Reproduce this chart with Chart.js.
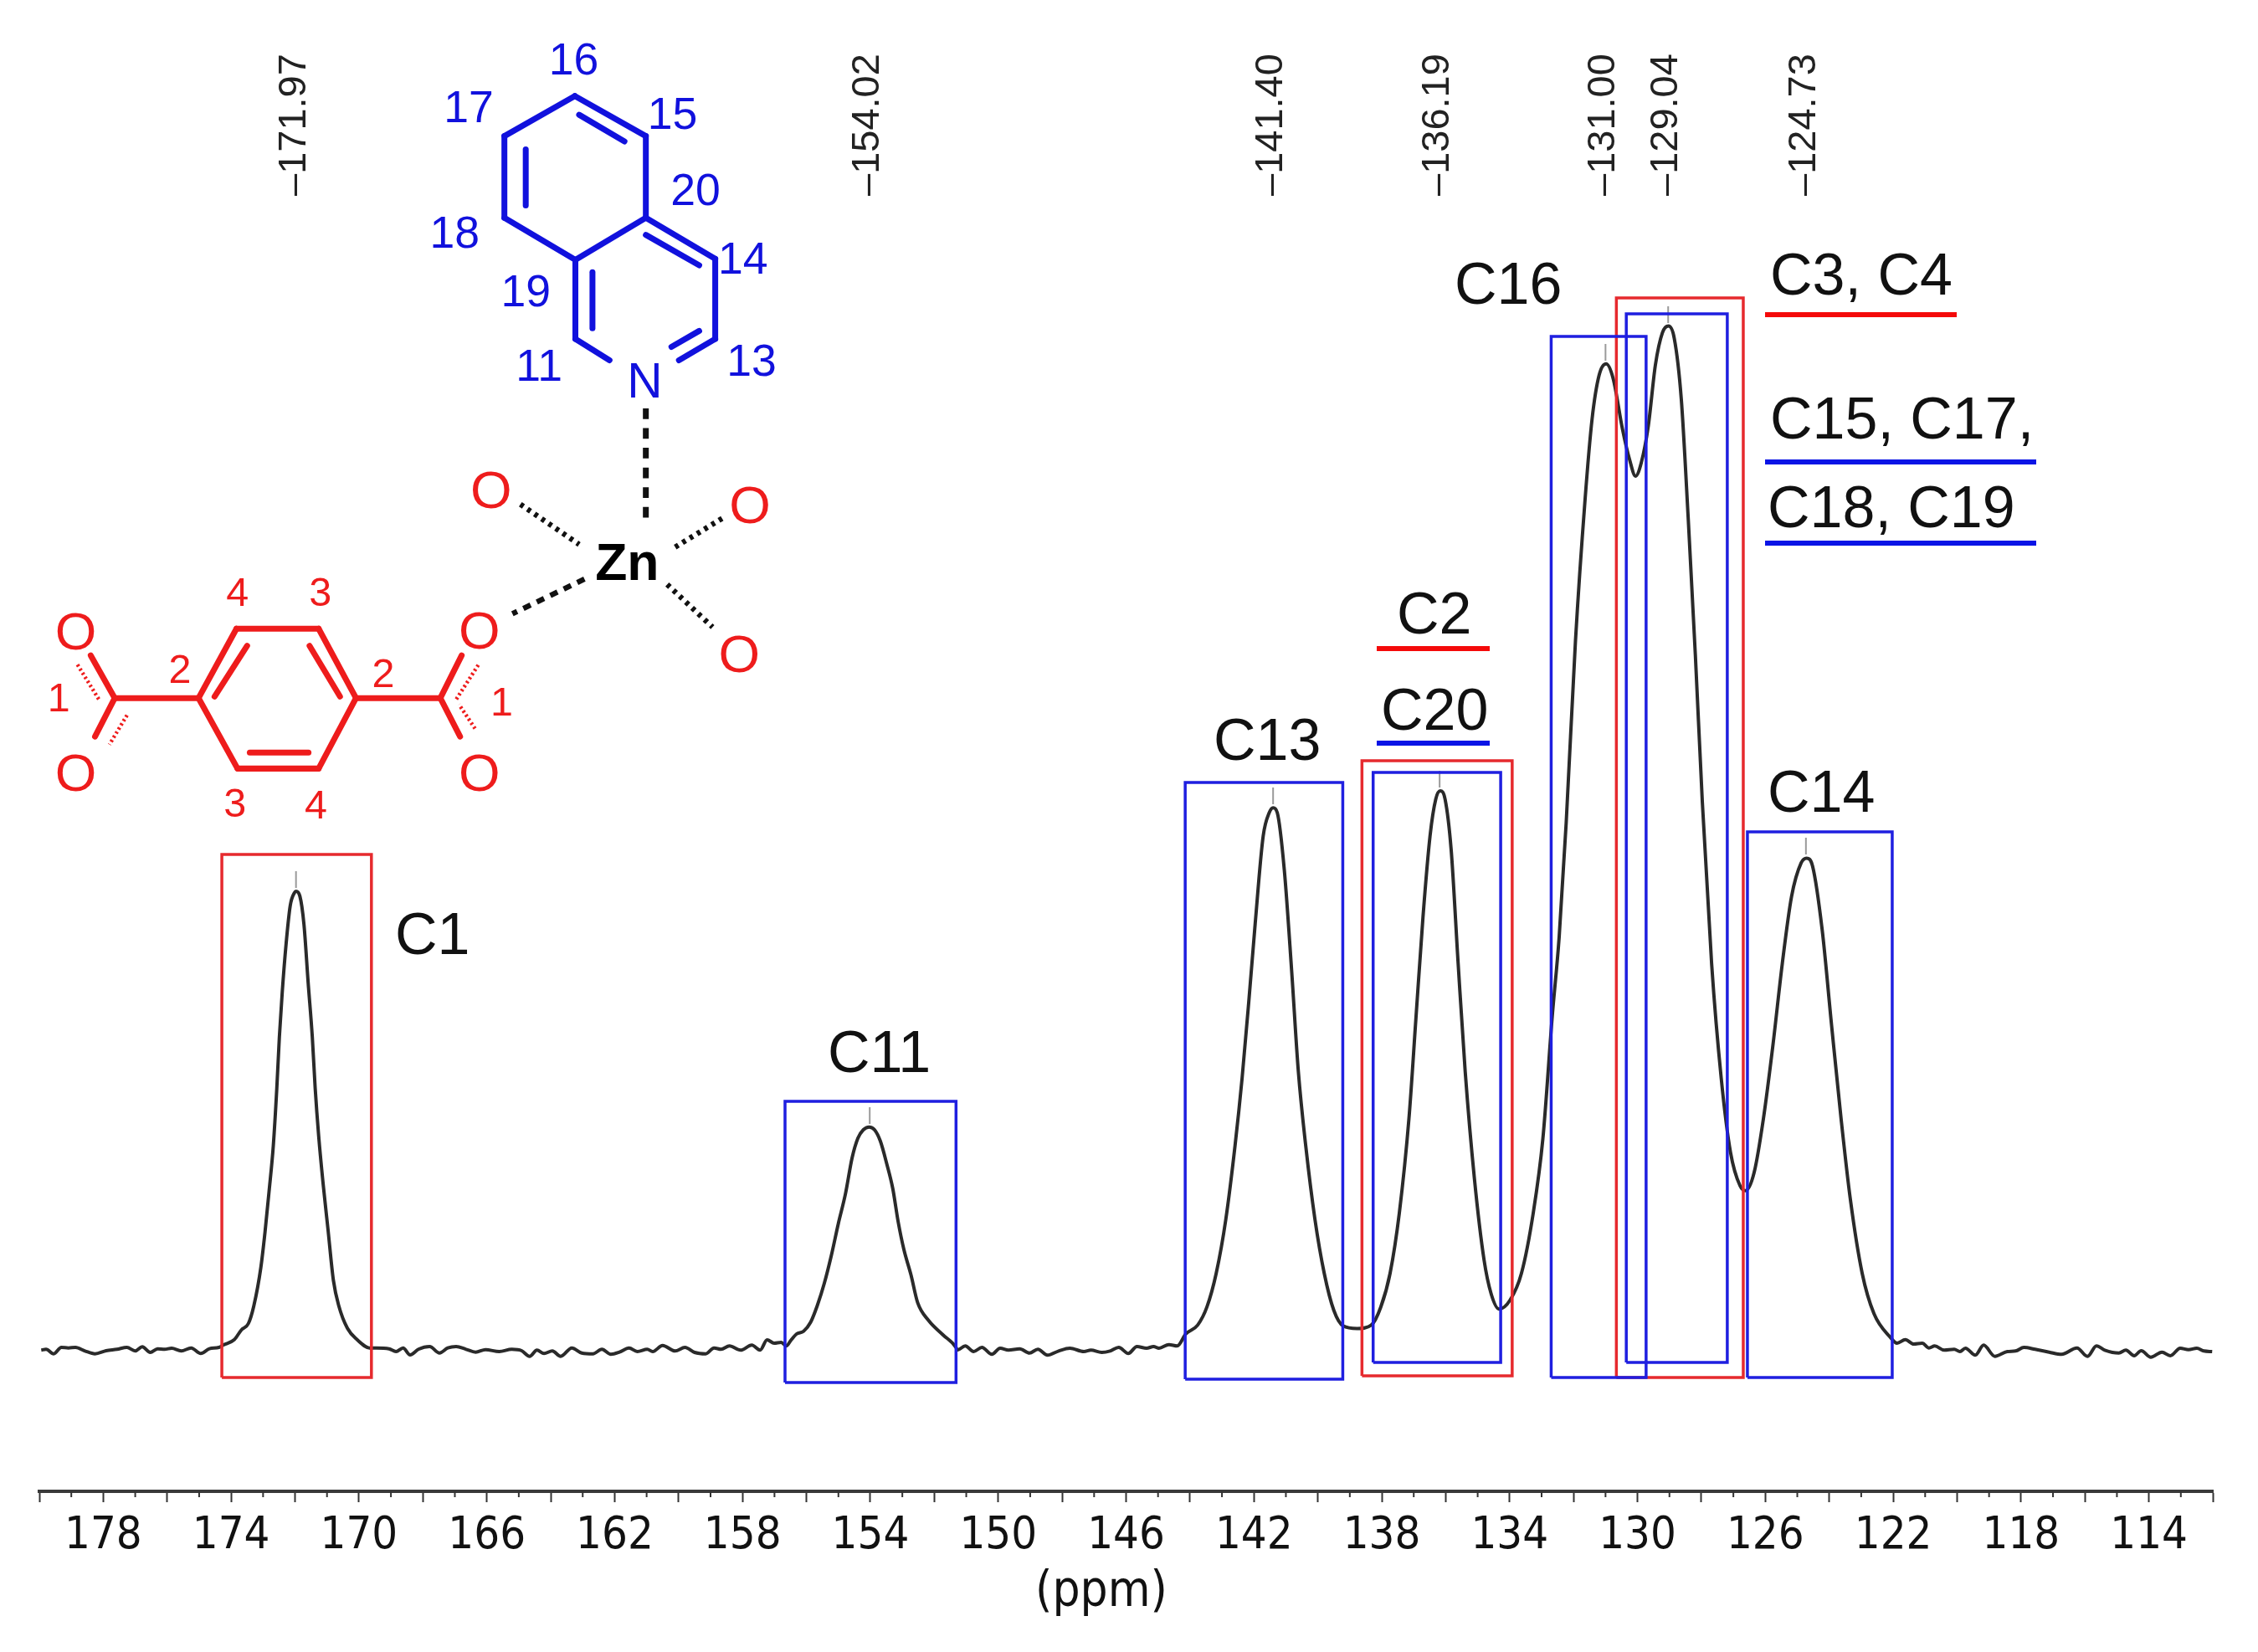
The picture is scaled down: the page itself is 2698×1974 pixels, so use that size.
<!DOCTYPE html>
<html>
<head>
<meta charset="utf-8">
<style>html,body{margin:0;padding:0;background:#fff}canvas{display:block}</style>
<script src="https://cdn.jsdelivr.net/npm/chart.js@4"></script>
</head>
<body>
<canvas id="c" width="2698" height="1974" style="width:2698px;height:1974px"></canvas>
<script>
const ppm = [179.94,179.79,179.55,179.31,179.09,178.87,178.57,178.26,177.91,177.57,177.26,177.00,176.78,176.53,176.30,176.08,175.86,175.56,175.25,174.95,174.68,174.38,
174.25,173.90,173.68,173.46,173.29,173.07,172.94,172.81,172.68,172.57,172.49,172.40,172.28,172.15,172.02,171.97,171.85,171.72,171.59,171.46,171.37,171.26,171.12,170.97,170.80,170.63,170.36,170.06,169.64,
169.45,169.06,168.84,168.62,168.40,168.14,167.79,167.48,167.22,166.96,166.65,166.35,166.04,165.61,165.22,164.91,164.66,164.43,164.21,163.95,163.69,163.34,163.03,162.68,162.40,162.12,161.85,161.55,161.29,160.98,160.81,160.50,160.11,159.80,159.50,159.15,158.89,158.67,158.41,158.06,157.71,157.45,157.23,157.01,156.79,
156.63,156.49,156.31,156.09,155.87,155.66,155.44,155.22,155.00,154.78,154.57,154.39,154.22,154.04,153.87,153.69,153.48,153.30,153.13,152.95,152.73,152.52,152.17,151.73,151.31,
151.28,151.03,150.77,150.51,150.20,149.94,149.68,149.33,149.02,148.76,148.46,148.11,147.76,147.32,147.10,146.76,146.50,146.23,145.93,145.66,145.36,145.14,144.97,144.66,144.40,
144.13,143.76,143.47,143.18,142.88,142.59,142.37,142.15,141.96,141.71,141.52,141.40,141.27,141.05,140.82,140.61,140.38,140.09,139.80,139.50,139.21,138.77,138.33,138.03,137.74,137.45,137.15,136.93,136.71,136.49,136.31,136.17,136.02,135.83,135.61,135.39,135.10,134.80,134.58,134.33,133.99,133.63,133.26,132.96,132.67,132.45,132.23,131.94,131.64,131.42,131.20,130.98,130.76,130.47,130.25,130.06,129.88,129.66,129.44,129.22,129.03,128.85,128.63,128.41,128.19,127.97,127.68,127.38,127.09,126.79,126.62,126.35,126.06,125.76,125.47,125.18,124.88,124.71,124.52,124.22,123.93,123.63,123.34,122.97,122.60,122.09,
121.88,121.62,121.36,121.09,120.88,120.70,120.40,120.09,119.91,119.74,119.43,119.17,118.82,118.43,118.17,117.91,117.56,117.12,116.73,116.25,115.92,115.64,115.38,114.94,114.72,114.46,114.24,113.94,113.59,113.33,113.02,112.76,112.50,112.28,112.02];
const intensity = [-0.3,0.7,-4.7,3,2.3,3,-1.3,-4.7,-1,0.7,3,-1.3,3.7,-3,1.3,0.7,2,-1.3,2.3,-4.3,1.3,3,
5.8,12.3,23.8,31.5,52.5,98.4,140.5,190.3,243.9,312.8,374,427.6,485,530.9,546.2,548,542.4,508,439,374,312.8,255.4,198,144.4,83.1,52.5,25.7,12.3,2,
2.3,1.3,-2,2.3,-6,0.7,4,-3.7,2.3,4,0.7,-2.7,0.3,-2,0.7,-1,-7.7,-0.3,-4.3,-1.3,-7.7,2.3,-3.7,-4.7,0.7,-5.3,-2.7,2.3,-2,0.7,-2,5.3,-1.3,3,-3,-4.7,2.3,0.7,4.7,-0.3,5.7,-0.3,12,8,9,
4.7,11.3,19,22.3,33,53,79.7,113,151.3,186.3,229.7,253,263,266.3,263,249.7,221.3,193,153,119.7,89.7,56.3,34.7,18,2.3,
-0.3,4.7,-2,3,-5.3,2,-0.3,1.3,-3.7,0.7,-6.3,-1.3,2,-2,-0.3,-3,-1.3,3,-4.3,4,2,4,2,6.3,4.7,
19.1,29.6,51.3,91.5,155.8,244.2,324.6,421,509.5,614,642,647.8,642,573.8,453.2,332.6,244.2,155.8,91.5,47.2,28.7,25.5,29.6,51.3,91.5,163.8,276.3,397,517.5,614,658.2,667.9,658.2,598,461.3,332.6,204,107.5,67.3,48.8,59.3,91.5,163.8,252.2,397,493.4,630,847.1,1015.9,1112.4,1164.7,1178.3,1160.6,1100.4,1064.2,1044.1,1060.2,1104.4,1176.7,1215.3,1223.4,1208.9,1136.5,991.8,831,654.2,461.3,324.6,236.2,196,190.3,212,276.3,364.8,461.3,541.6,581.8,587.5,577.8,501.4,388.9,276.3,179.9,91.5,43.2,15.1,
8,12.3,7,8,2.3,4.7,-0.3,0.7,-2,2,-6.3,5.7,-7.7,-2,-1.3,3,0.7,-2.7,-5.3,2.3,-7.7,4.7,-0.3,-3.7,-0.3,-7,-1,-8.7,-2.7,-7,2,0.3,2,-1.3,-2];

const axisLabels = [178,174,170,166,162,158,154,150,146,142,138,134,130,126,122,118,114];
const peakPpm = [171.97,154.02,141.40,136.19,131.00,129.04,124.73];
const peakHeight = [548,266,648,668,1178,1223,588];
const peakText = ["171.97","154.02","141.40","136.19","131.00","129.04","124.73"];

const boxNames = ["C1","C11","C13","C2","C20","C16","C3,C4","C15,C17,C18,C19","C14"];
const boxFrom  = [174.29,156.67,144.15,138.62,138.27,132.70,130.66,130.35,126.56];
const boxTo    = [169.61,151.32,139.22,133.92,134.28,129.73,126.69,127.19,122.03];
const boxTop   = [592,297,678,704,690,1211,1257,1238,619];
const boxLow   = [-33,-39,-35,-31,-15,-33,-33,-15,-33];
const boxGroup = ["red","blue","blue","red","blue","blue","red","blue","blue"];

const RED="#e62a2e", BLUE="#1f1fe0", PURE_RED="#f40a0a", PURE_BLUE="#0a14e6", INK="#111";
const AXIS_FONT='"DejaVu Sans Condensed","DejaVu Sans"';

const boxSets = boxNames.map((n,i)=>({
  type:"scatter", label:n, showLine:true, pointRadius:0, borderWidth:3.5,
  borderColor: boxGroup[i]==="red"?RED:BLUE, tension:0, fill:false,
  order: boxGroup[i]==="red"?1:0,
  data:[{x:boxFrom[i],y:boxLow[i]},{x:boxFrom[i],y:boxTop[i]},{x:boxTo[i],y:boxTop[i]},{x:boxTo[i],y:boxLow[i]},{x:boxFrom[i],y:boxLow[i]}]
}));
const peakSets = peakPpm.map((p,i)=>({
  type:"scatter", label:"peak "+peakText[i], showLine:true, pointRadius:0, borderWidth:2,
  borderColor:"#9a9a9a", order:3,
  data:[{x:p,y:peakHeight[i]+4},{x:p,y:peakHeight[i]+24}]
}));

const minorTicks = {
  id:"minorTicks",
  afterDraw(ch){
    const c=ch.ctx,s=ch.scales.x;
    c.save();c.strokeStyle="#333";c.lineWidth=2;
    for(let v=113;v<180;v+=2){const x=s.getPixelForValue(v);c.beginPath();c.moveTo(x,s.top);c.lineTo(x,s.top+7);c.stroke();}
    c.restore();
  }
};

const annotations = {
  id:"annotations",
  afterDatasetsDraw(ch){
    const c=ch.ctx,s=ch.scales.x;
    c.save();
    // axis unit
    c.fillStyle="#111";c.textAlign="center";c.textBaseline="middle";
    c.font='58px '+AXIS_FONT;c.fillText("(ppm)",1316,1904);
    // peak shift labels
    c.fillStyle="#222";c.textAlign="left";c.textBaseline="middle";
    c.font='47px "Liberation Sans"';
    peakPpm.forEach((p,i)=>{
      const x=s.getPixelForValue(p);
      c.save();c.translate(x-2,234);c.rotate(-Math.PI/2);
      c.fillText("\u2013"+peakText[i],0,0);c.restore();
    });
    // assignment labels
    c.fillStyle=INK;c.textAlign="left";c.textBaseline="alphabetic";
    c.font='70px "Liberation Sans"';
    const L=[["C1",472,1140],["C11",989,1281],["C13",1450,908],["C16",1738,363],["C2",1669,757],["C20",1650,872],["C3, C4",2115,352],["C15, C17,",2115,524],["C18, C19",2112,630],["C14",2112,970]];
    L.forEach(t=>c.fillText(t[0],t[1],t[2]));
    // underlines
    c.lineWidth=6;
    [[PURE_RED,2109,2338,376],[PURE_BLUE,2109,2433,552],[PURE_BLUE,2109,2433,649],[PURE_RED,1645,1780,775],[PURE_BLUE,1645,1780,888]].forEach(u=>{
      c.strokeStyle=u[0];c.beginPath();c.moveTo(u[1],u[3]);c.lineTo(u[2],u[3]);c.stroke();
    });
    drawMolecule(c);
    c.restore();
  }
};

function seg(c,list){list.forEach(l=>{c.beginPath();c.moveTo(l[0],l[1]);c.lineTo(l[2],l[3]);c.stroke();});}
function drawMolecule(c){
  c.save();
  const k=1/1.568;c.scale(k,k);
  c.lineCap="round";c.lineJoin="round";
  // isoquinoline
  c.strokeStyle="#1111dd";c.lineWidth=11;
  seg(c,[[1077,180,1210,255],[1210,255,1210,408],[1210,408,1078,487],[1078,487,945,408],[945,408,945,255],[945,255,1077,180],
    [1210,408,1340,485],[1340,485,1340,635],[1340,635,1272,675],[1078,487,1078,635],[1078,635,1142,675],
    [1085,215,1170,265],[985,280,985,385],[1210,440,1310,497],[1110,510,1110,615],[1310,620,1258,650]]);
  // terephthalate
  c.strokeStyle="#ee1c1c";
  seg(c,[[372,1308,443,1178],[443,1178,597,1178],[597,1178,667,1308],[667,1308,597,1440],[597,1440,445,1440],[445,1440,372,1308],
    [402,1305,463,1210],[580,1210,637,1305],[468,1410,578,1410],
    [372,1308,215,1308],[667,1308,825,1308],
    [215,1308,170,1228],[215,1308,178,1380],[825,1308,865,1228],[825,1308,862,1380]]);
  c.lineWidth=7;c.lineCap="butt";c.setLineDash([4,5]);
  seg(c,[[185,1310,145,1245],[238,1340,205,1395],[855,1310,898,1243],[890,1365,860,1320]]);
  // coordination bonds
  c.strokeStyle="#111";c.lineWidth=11;c.setLineDash([20,17]);
  seg(c,[[1210,765,1210,978]]);
  c.lineWidth=10;c.setLineDash([15,13]);
  seg(c,[[1095,1085,960,1150]]);
  c.setLineDash([7,9]);
  seg(c,[[975,945,1085,1020],[1265,1025,1355,970],[1250,1095,1335,1175]]);
  c.setLineDash([]);
  // atoms
  c.textAlign="center";c.textBaseline="middle";
  c.fillStyle="#1111dd";c.font='92px "Liberation Sans"';c.fillText("N",1208,720);
  c.font='84px "Liberation Sans"';
  [["16",1075,116],["17",878,206],["15",1260,219],["20",1303,361],["18",852,441],["14",1392,489],["19",985,551],["11",1010,691],["13",1408,681]].forEach(t=>c.fillText(t[0],t[1],t[2]));
  c.fillStyle="#ee1c1c";c.font='100px "Liberation Sans"';
  [[920,924],[1405,952],[1385,1232],[898,1187],[142,1189],[142,1454],[898,1454]].forEach(p=>c.fillText("O",p[0],p[1]));
  c.font='76px "Liberation Sans"';
  [["4",445,1114],["3",600,1114],["2",337,1259],["2",718,1266],["1",110,1312],["1",940,1319],["3",440,1509],["4",592,1512]].forEach(t=>c.fillText(t[0],t[1],t[2]));
  c.fillStyle="#000";c.font='bold 98px "Liberation Sans"';c.fillText("Zn",1175,1059);
  c.restore();
}

new Chart(document.getElementById("c"),{
  type:"scatter",
  data:{datasets:[
    ...boxSets,
    {type:"scatter",label:"13C spectrum",showLine:true,pointRadius:0,borderWidth:4,borderColor:"#2a2a2a",
     cubicInterpolationMode:"monotone",order:2,
     data:ppm.map((p,i)=>({x:p,y:intensity[i]}))},
    ...peakSets
  ]},
  options:{
    responsive:false,animation:false,devicePixelRatio:1,
    layout:{padding:{left:47,right:54,top:300,bottom:0}},
    plugins:{legend:{display:false},tooltip:{enabled:false},title:{display:false}},
    scales:{
      x:{type:"linear",reverse:true,min:112,max:180,position:"bottom",
        afterFit(s){s.height=192;},
        border:{color:"#3a3a3a",width:4},
        grid:{drawOnChartArea:false,drawTicks:true,tickLength:13,tickWidth:2,
          tickColor:ctx=>(ctx.tick&&ctx.tick.value%2===0)?"#333":"rgba(0,0,0,0)"},
        ticks:{stepSize:1,autoSkip:false,maxRotation:0,minRotation:0,padding:9,color:"#111",
          font:{family:AXIS_FONT,size:54},
          callback:v=>axisLabels.includes(v)?String(v):""},
        title:{display:false}
      },
      y:{type:"linear",display:false,min:-169,max:1313}
    }
  },
  plugins:[minorTicks,annotations]
});
</script>
</body>
</html>
